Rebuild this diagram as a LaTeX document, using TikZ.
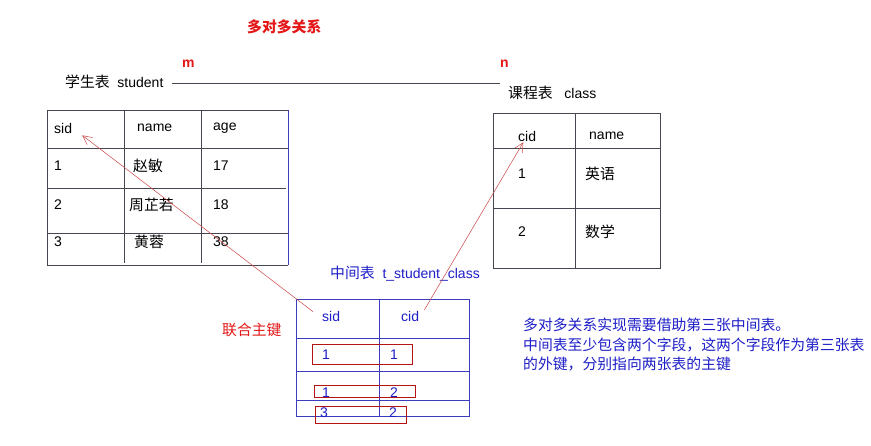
\documentclass[tikz,border=0pt]{standalone}
\usepackage{fontspec}
\setmainfont{Liberation Sans}
\newfontfamily\cjk{Noto Sans CJK SC}[Scale=1.06]
\usetikzlibrary{arrows.meta}
\definecolor{tred}{RGB}{228,24,24}
\definecolor{tblue}{RGB}{30,30,200}
\definecolor{lblue}{RGB}{60,60,190}
\definecolor{lgray}{RGB}{70,70,80}
\definecolor{arrred}{RGB}{205,70,70}
\tikzset{
  txt/.style={anchor=west, inner sep=0pt, font=\fontsize{14}{16}\selectfont},
  btxt/.style={txt, text=tblue},
  rtxt/.style={txt, text=tred},
  grid/.style={draw=lgray, line width=0.8pt},
  bgrid/.style={draw=lblue, line width=0.8pt},
  keybox/.style={draw=tred!80!black, line width=0.7pt},
  link/.style={draw=arrred, line width=0.5pt, -{Straight Barb[length=9pt,width=9pt]}}
}
\begin{document}
\begin{tikzpicture}[x=1pt,y=-1pt]
\useasboundingbox[fill=white] (0,0) rectangle (871,445);
% title
\node[rtxt, font=\fontsize{14}{16}\selectfont\cjk\bfseries] (title) at (247,27) {多对多关系};
\node[rtxt, font=\fontsize{14}{16}\selectfont\bfseries] (m) at (182,64) {m};
\node[rtxt, font=\fontsize{14}{16}\selectfont\bfseries] (n) at (500,64) {n};
\node[txt] (stlabel) at (65,82) {{\cjk 学生表}\ \ student};
\node[txt] (cllabel) at (508,93) {{\cjk 课程表}\ \ \ class};
\coordinate (lineA) at (172,83);
\coordinate (lineB) at (500,83);
\draw[draw=lgray, line width=0.8pt] (lineA) -- (lineB);

% student table
\draw[grid] (288,110) -- (47,110) -- (47,265) -- (288,265);
\draw[draw=lblue, line width=0.8pt] (288,110) -- (288,265);
\draw[grid] (124,110) -- (124,263);
\draw[grid] (201,110) -- (201,263);
\draw[grid] (47,148) -- (288,148);
\draw[grid] (47,188) -- (286,188);
\draw[grid] (47,233) -- (288,233);
\node[txt] (ssid) at (54,128) {sid};
\node[txt] (sname) at (137,128) {name};
\node[txt] (sage) at (213,128) {age};
\node[txt] (s11) at (54,166) {1};
\node[txt] (s12) at (133,166) {\cjk 赵敏};
\node[txt] (s13) at (213,166) {17};
\node[txt] (s21) at (54,205) {2};
\node[txt] (s22) at (129,205) {\cjk 周芷若};
\node[txt] (s23) at (213,205) {18};
\node[txt] (s31) at (54,242) {3};
\node[txt] (s32) at (134,242) {\cjk 黄蓉};
\node[txt] (s33) at (213,242) {38};

% class table
\draw[grid] (493,113) rectangle (660,268);
\draw[grid] (575,113) -- (575,268);
\draw[grid] (493,148) -- (660,148);
\draw[grid] (493,208) -- (660,208);
\node[txt] (ccid) at (518,136) {cid};
\node[txt] (cname) at (589,136) {name};
\node[txt] (c11) at (518,174) {1};
\node[txt] (c12) at (585,174) {\cjk 英语};
\node[txt] (c21) at (518,232) {2};
\node[txt] (c22) at (585,232) {\cjk 数学};

% middle table
\node[btxt] (mlabel) at (330,274) {{\cjk 中间表}\ \ t\_student\_class};
\draw[bgrid] (296,299) rectangle (469,416);
\draw[bgrid] (379,299) -- (379,416);
\draw[bgrid] (296,338) -- (469,338);
\draw[bgrid] (296,371) -- (469,371);
\draw[bgrid] (296,400) -- (469,400);
\node[btxt] (msid) at (322,316) {sid};
\node[btxt] (mcid) at (401,316) {cid};
\node[btxt] (m11) at (322,355) {1};
\node[btxt] (m12) at (390,355) {1};
\node[btxt] (m21) at (322,393) {1};
\node[btxt] (m22) at (390,393) {2};
\node[btxt] (m31) at (320,413) {3};
\node[btxt] (m32) at (389,413) {2};
\draw[keybox] (312,344) rectangle (412,364);
\draw[keybox] (314,385) rectangle (415,397);
\draw[keybox] (315,406) rectangle (406,423);
\node[rtxt, font=\fontsize{14}{16}\selectfont\cjk] (key) at (222,330) {联合主键};

% note
\node[btxt, font=\fontsize{14}{19.5}\selectfont\cjk, align=left, anchor=north west] (note) at (523,318)
  {多对多关系实现需要借助第三张中间表。\\中间表至少包含两个字段，这两个字段作为第三张表\\的外键，分别指向两张表的主键};

% connectors
\coordinate (fromS) at ([xshift=-9pt,yshift=-1pt]msid.north west);
\coordinate (toS) at ([xshift=10pt,yshift=-2pt]ssid.south east);
\coordinate (fromC) at ([xshift=5pt,yshift=6pt]mcid.east);
\coordinate (toC) at ([xshift=-13pt,yshift=-1pt]ccid.south east);
\draw[link] (fromS) -- (toS);
\draw[link] (fromC) -- (toC);
\end{tikzpicture}
\end{document}
